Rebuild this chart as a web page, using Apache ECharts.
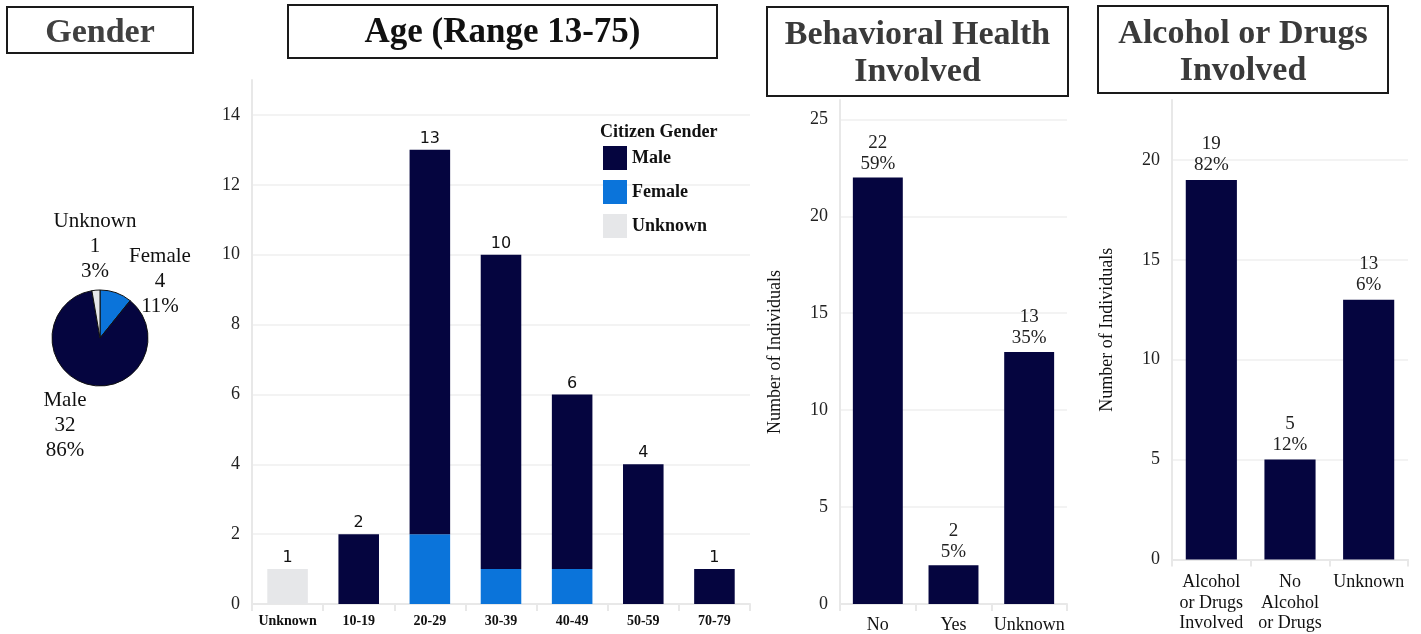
<!DOCTYPE html>
<html><head><meta charset="utf-8">
<script src="https://cdn.jsdelivr.net/npm/echarts@6/dist/echarts.min.js"></script>
<style>html,body{margin:0;padding:0;background:#fff}#c{width:1421px;height:634px}</style>
</head><body><div id="c"></div>
<script>
// ---- Data ----
const genderNames = ['Female', 'Male', 'Unknown'];
const genderValues = [4, 32, 1];

const ageCategories = ['Unknown', '10-19', '20-29', '30-39', '40-49', '50-59', '70-79'];
const ageMale    = [0, 2, 11, 9, 5, 4, 1];
const ageFemale  = [0, 0, 2, 1, 1, 0, 0];
const ageUnknown = [1, 0, 0, 0, 0, 0, 0];

const bhCategories = ['No', 'Yes', 'Unknown'];
const bhValues = [22, 2, 13];
const bhPercents = ['59%', '5%', '35%'];

const adCategories = ['Alcohol\nor Drugs\nInvolved', 'No\nAlcohol\nor Drugs', 'Unknown'];
const adValues = [19, 5, 13];
const adPercents = ['82%', '12%', '6%'];

// ---- Styling ----
const NAVY = '#05053F', BLUE = '#0B74DA', GREY = '#E6E7E9';
const SERIF = '"Liberation Serif", "Times New Roman", serif';
const axisCol = '#e8e8e8';
const ageTotals = ageCategories.map((_, i) => ageMale[i] + ageFemale[i] + ageUnknown[i]);
const genderTotal = genderValues.reduce((a, b) => a + b, 0);

// split lines: hide the one drawn at the (non-round) axis max
function gridLine(max, interval) {
  const n = Math.floor(max / interval) + 1 + (max % interval ? 1 : 0);
  const cols = [];
  for (let i = 0; i < n; i++) cols.push(i === n - 1 && max % interval ? 'rgba(0,0,0,0)' : '#efefef');
  return { show: true, lineStyle: { color: cols, width: 1.5 } };
}

function box(x, y, w, h, lines, tops, size, color) {
  const children = [
    { type: 'rect', shape: { x: x, y: y, width: w, height: h },
      style: { fill: '#fff', stroke: '#1a1a1a', lineWidth: 2 } }
  ];
  lines.forEach((t, i) => children.push({
    type: 'text', style: { text: t, x: x + w / 2, y: tops[i],
      textAlign: 'center', textVerticalAlign: 'top',
      font: 'bold ' + size + 'px ' + SERIF, fill: color }
  }));
  return { type: 'group', children: children };
}

const pieLabelPos = { 0: [160, 281], 1: [65, 425], 2: [95, 246] };

const chart = echarts.init(document.getElementById('c'), null, { renderer: 'canvas' });
chart.setOption({
  animation: false,
  backgroundColor: '#fff',
  title: [{
    text: 'Citizen Gender', left: 600, top: 123, padding: 0,
    textStyle: { fontFamily: SERIF, fontWeight: 'bold', fontSize: 18, color: '#111' }
  }],
  legend: {
    data: ['Male', 'Female', 'Unknown'], orient: 'vertical', left: 603, top: 146, padding: 0,
    icon: 'rect', itemWidth: 24, itemHeight: 24, itemGap: 10,
    textStyle: { fontFamily: SERIF, fontWeight: 'bold', fontSize: 18, color: '#111' },
    selectedMode: false
  },
  graphic: [
    box(7, 7, 186, 46, ['Gender'], [16], 34, '#404040'),
    box(288, 5, 429, 53, ['Age (Range 13-75)'], [15], 35, '#111'),
    box(767, 7, 301, 89, ['Behavioral Health', 'Involved'], [18, 55], 34, '#3a3a3a'),
    box(1098, 6, 290, 87, ['Alcohol or Drugs', 'Involved'], [17, 54], 34, '#3a3a3a')
  ],
  grid: [
    { left: 252, right: 671, top: 80, bottom: 30 },
    { left: 840, right: 354, top: 100, bottom: 29 },
    { left: 1172, right: 13, top: 100, bottom: 67 }
  ],
  xAxis: [
    { type: 'category', gridIndex: 0, data: ageCategories,
      axisLine: { lineStyle: { color: axisCol, width: 2 } },
      axisTick: { show: true, length: 7, lineStyle: { color: axisCol, width: 2 } },
      axisLabel: { interval: 0, fontFamily: SERIF, fontWeight: 'bold', fontSize: 14, color: '#111', margin: 10 } },
    { type: 'category', gridIndex: 1, data: bhCategories,
      axisLine: { lineStyle: { color: axisCol, width: 2 } },
      axisTick: { show: true, length: 7, lineStyle: { color: axisCol, width: 2 } },
      axisLabel: { interval: 0, fontFamily: SERIF, fontSize: 18, color: '#111', margin: 12 } },
    { type: 'category', gridIndex: 2, data: adCategories,
      axisLine: { lineStyle: { color: axisCol, width: 2 } },
      axisTick: { show: true, length: 7, lineStyle: { color: axisCol, width: 2 } },
      axisLabel: { interval: 0, fontFamily: SERIF, fontSize: 18, color: '#111', margin: 13, lineHeight: 20.5 } }
  ],
  yAxis: [
    { type: 'value', gridIndex: 0, min: 0, max: 15, interval: 2,
      axisLine: { show: true, lineStyle: { color: axisCol, width: 2 } },
      splitLine: gridLine(15, 2),
      axisLabel: { fontFamily: SERIF, fontSize: 18, color: '#222', margin: 12, showMaxLabel: false } },
    { type: 'value', gridIndex: 1, min: 0, max: 26, interval: 5,
      name: 'Number of Individuals', nameLocation: 'middle', nameGap: 56,
      nameTextStyle: { fontFamily: SERIF, fontSize: 18, color: '#111' },
      axisLine: { show: true, lineStyle: { color: axisCol, width: 2 } },
      splitLine: gridLine(26, 5),
      axisLabel: { fontFamily: SERIF, fontSize: 18, color: '#222', margin: 12, showMaxLabel: false } },
    { type: 'value', gridIndex: 2, min: 0, max: 23, interval: 5,
      name: 'Number of Individuals', nameLocation: 'middle', nameGap: 56,
      nameTextStyle: { fontFamily: SERIF, fontSize: 18, color: '#111' },
      axisLine: { show: true, lineStyle: { color: axisCol, width: 2 } },
      splitLine: gridLine(23, 5),
      axisLabel: { fontFamily: SERIF, fontSize: 18, color: '#222', margin: 12, showMaxLabel: false } }
  ],
  series: [
    {
      type: 'pie', center: [100, 338], radius: 48, startAngle: 90, clockwise: true,
      data: genderNames.map((n, i) => ({ name: n, value: genderValues[i] })),
      color: [BLUE, NAVY, GREY],
      itemStyle: { borderColor: '#111', borderWidth: 1 },
      label: {
        show: true, position: 'outside', overflow: 'none', alignTo: 'none',
        fontFamily: SERIF, fontSize: 21, lineHeight: 25, color: '#111',
        formatter: p => p.name + '\n' + p.value + '\n' + Math.round(p.value / genderTotal * 100) + '%'
      },
      labelLine: { show: false },
      labelLayout: p => ({ x: pieLabelPos[p.dataIndex][0], y: pieLabelPos[p.dataIndex][1], align: 'center', verticalAlign: 'middle' }),
      emphasis: { disabled: true }
    },
    { name: 'Unknown', type: 'bar', stack: 'age', xAxisIndex: 0, yAxisIndex: 0, barWidth: '57%',
      data: ageUnknown, itemStyle: { color: GREY } },
    { name: 'Female', type: 'bar', stack: 'age', xAxisIndex: 0, yAxisIndex: 0, barWidth: '57%',
      data: ageFemale, itemStyle: { color: BLUE } },
    { name: 'Male', type: 'bar', stack: 'age', xAxisIndex: 0, yAxisIndex: 0, barWidth: '57%',
      data: ageMale, itemStyle: { color: NAVY } },
    { name: 'total', type: 'bar', stack: 'age', xAxisIndex: 0, yAxisIndex: 0, barWidth: '57%',
      data: ageTotals.map(() => 0), itemStyle: { color: 'transparent' },
      label: { show: true, position: 'top', distance: 3, fontFamily: '"DejaVu Sans", sans-serif', fontSize: 16, color: '#111',
        formatter: p => String(ageTotals[p.dataIndex]) } },
    { type: 'bar', xAxisIndex: 1, yAxisIndex: 1, barWidth: '66%', data: bhValues,
      itemStyle: { color: NAVY },
      label: { show: true, position: 'top', distance: 3, fontFamily: SERIF, fontSize: 19, lineHeight: 21, color: '#222',
        formatter: p => p.value + '\n' + bhPercents[p.dataIndex] } },
    { type: 'bar', xAxisIndex: 2, yAxisIndex: 2, barWidth: '65%', data: adValues,
      itemStyle: { color: NAVY },
      label: { show: true, position: 'top', distance: 4, fontFamily: SERIF, fontSize: 19, lineHeight: 21, color: '#222',
        formatter: p => p.value + '\n' + adPercents[p.dataIndex] } }
  ]
});
</script></body></html>
